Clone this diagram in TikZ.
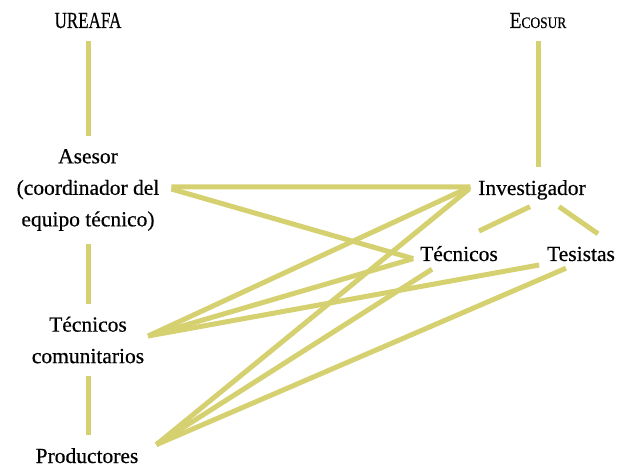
\documentclass[tikz,border=0pt]{standalone}
\usepackage{fontspec}
\setmainfont[FakeBold=0.5]{Liberation Serif}
\usepackage{graphicx}
\usetikzlibrary{positioning}
\definecolor{linkyellow}{RGB}{213,209,113}
\newcommand{\lblfont}{\fontsize{21.5}{31.5}\selectfont}
\newcommand{\orgfont}{\fontsize{23}{27}\selectfont}

\begin{document}
\begin{tikzpicture}[x=1pt,y=-1pt,
    actor/.style={font=\lblfont,align=center,inner sep=0pt,outer xsep=0pt,outer ysep=13pt},
    org/.style={actor,font=\orgfont},
    link/.style={color=linkyellow,line width=5pt}]
    \useasboundingbox (0,0) rectangle (625,468);
    % organizations
    \node[org,anchor=base] (UR) at (88,28) {\scalebox{0.74}[1]{UREAFA}};
    \node[org,anchor=base] (EC) at (538,28) {\scalebox{0.84}[1]{E{\fontsize{16}{16}\selectfont COSUR}}};
    % left column
    \node[actor] (AS) at (88,190) {Asesor\\(coordinador del\\equipo técnico)};
    \node[actor] (TC) at (88,340) {Técnicos\\comunitarios};
    \node[actor,anchor=base] (PR) at (87,463) {Productores};
    % right side
    \node[actor,anchor=base] (IN) at (532,195) {Investigador};
    \node[actor,anchor=base] (TE) at (459,261) {Técnicos};
    \node[actor,anchor=base] (TS) at (581,261) {Tesistas};

    \draw[link] (UR.south) -- (UR.south |- AS.north)
        (AS.south) -- (AS.south |- TC.north)
        (TC.south) -- (TC.south |- PR.north)
        (EC.south) -- (EC.south |- IN.north);

    \path[link]
    ([shift={(12,-3)}]AS.east) edge ([shift={(-8,-3)}]IN.west)
    ([shift={(12,-1)}]AS.east) edge ([shift={(-7,5)}]TE.west)
    ([shift={(-8,-3)}]IN.west) edge ([shift={(4,-4)}]TC.east)
    ([shift={(-9,-1)}]IN.west) edge ([shift={(18,-11)}]PR.east)
    ([shift={(-2,-6)}]IN.south) edge ([shift={(20,-2)}]TE.north)
    ([shift={(27,-6)}]IN.south) edge ([shift={(17,0)}]TS.north)
    ([shift={(-7,5)}]TE.west) edge ([shift={(4,-4)}]TC.east)
    ([shift={(-8,11)}]TS.west) edge ([shift={(4,-4)}]TC.east)
    ([shift={(-27,-5)}]TE.south) edge ([shift={(18,-11)}]PR.east)
    ([shift={(-15,-6)}]TS.south) edge ([shift={(18,-11)}]PR.east)
    ;
\end{tikzpicture}
\end{document}
